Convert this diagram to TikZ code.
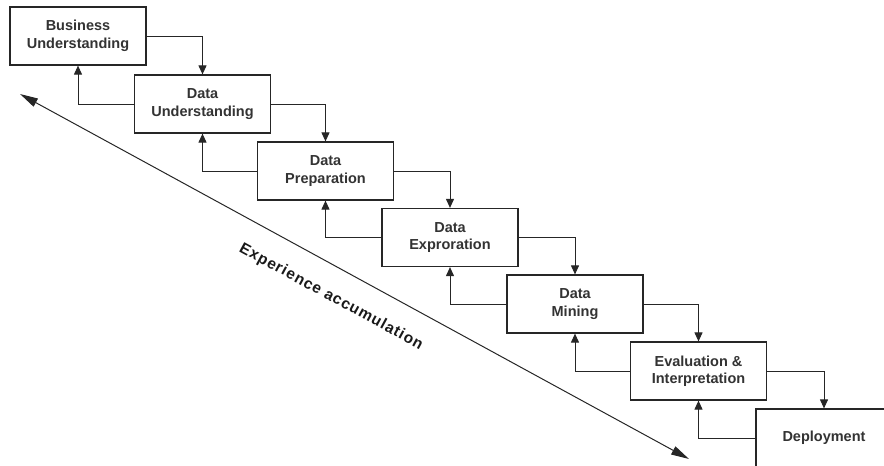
\documentclass[tikz,border=0pt]{standalone}
\usepackage{fontspec}
\setmainfont{Liberation Sans}
\usetikzlibrary{arrows.meta}
\begin{document}
\begin{tikzpicture}[x=1pt,y=-1pt,
  stage/.style={draw=black!85, line width=1.2pt, fill=white, minimum width=136pt, minimum height=58pt,
    inner sep=0pt, align=center, font=\fontsize{14.5}{17.5}\selectfont\bfseries, text=black!80},
  flow/.style={draw=black!85, line width=1pt, -{Triangle[length=9pt,width=8pt]}},
  big/.style={draw=black!85, line width=1pt, {Triangle[length=18pt,width=9pt]}-{Triangle[length=18pt,width=9pt]}}]
\useasboundingbox (0,0) rectangle (884,466);
\node[stage] (s1) at (78,36) {Business\\Understanding};
\node[stage] (s2) at (202.5,104) {Data\\Understanding};
\node[stage] (s3) at (325.5,171) {Data\\Preparation};
\node[stage] (s4) at (450,237.5) {Data\\Exproration};
\node[stage] (s5) at (575,304) {Data\\Mining};
\node[stage] (s6) at (698.5,371) {Evaluation \&\\Interpretation};
\node[stage] (s7) at (824,438) {Deployment};
\foreach \a/\b in {s1/s2,s2/s3,s3/s4,s4/s5,s5/s6,s6/s7}{
  \draw[flow] (\a.east) -| (\b.north);
  \draw[flow] (\b.west) -| (\a.south);
}
\coordinate (e1) at (20,94);
\coordinate (e2) at (689,459);
\draw[big] (e1) -- (e2);
\node[rotate=-28.6, font=\fontsize{15.5}{18}\selectfont\bfseries\addfontfeature{LetterSpace=6}, text=black!90] (lab) at (331,297) {Experience accumulation};
\end{tikzpicture}
\end{document}
